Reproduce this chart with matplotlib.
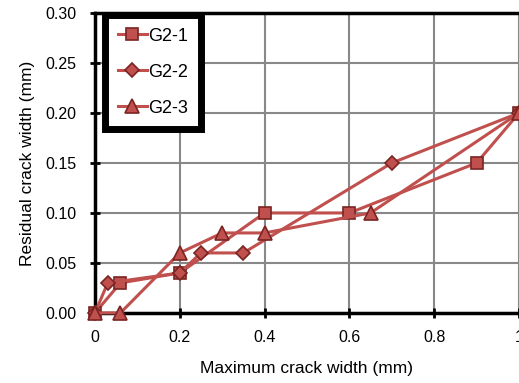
import matplotlib
matplotlib.use("Agg")
import matplotlib.pyplot as plt

plt.rcParams['font.family'] = ['Liberation Sans', 'DejaVu Sans']

x_g21 = [0, 0.06, 0.2, 0.4, 0.6, 0.9, 1.0]
y_g21 = [0, 0.03, 0.04, 0.10, 0.10, 0.15, 0.20]
x_g22 = [0, 0.03, 0.2, 0.25, 0.35, 0.7, 1.0]
y_g22 = [0, 0.03, 0.04, 0.06, 0.06, 0.15, 0.20]
x_g23 = [0, 0.06, 0.2, 0.3, 0.4, 0.65, 1.0]
y_g23 = [0, 0, 0.06, 0.08, 0.08, 0.10, 0.20]
labels = ["G2-1", "G2-2", "G2-3"]
x_ticks = [0, 0.2, 0.4, 0.6, 0.8, 1.0]
x_ticklabels = ["0", "0.2", "0.4", "0.6", "0.8", "1"]
y_ticks = [0, 0.05, 0.10, 0.15, 0.20, 0.25, 0.30]

line_c = "#C0504D"
edge_c = "#7A2422"

fig = plt.figure(figsize=(5.19, 3.83), dpi=100)
ax = fig.add_axes([0.183, 0.183, 0.817, 0.783])

series = [(x_g21, y_g21, "s", 9), (x_g22, y_g22, "D", 7), (x_g23, y_g23, "^", 10)]
for (xs, ys, m, ms), lab in zip(series, labels):
    ax.plot(xs, ys, color=line_c, lw=2.2, marker=m, markersize=ms,
            markerfacecolor=line_c, markeredgecolor=edge_c, markeredgewidth=1.2,
            label=lab, clip_on=False, zorder=3)

ax.set_xlim(0, 1)
ax.set_ylim(0, 0.30)
ax.set_xticks(x_ticks)
ax.set_xticklabels(x_ticklabels)
ax.set_yticks(y_ticks)
ax.set_yticklabels(["%.2f" % v for v in y_ticks])
ax.grid(True, color="#888888", lw=1.5)
ax.set_axisbelow(True)

for s in ["left", "bottom", "top"]:
    ax.spines[s].set_linewidth(2.5)
    ax.spines[s].set_color("black")
ax.spines["right"].set_visible(False)
ax.tick_params(direction="inout", length=7, width=2, labelsize=11.5)
ax.tick_params(axis="y", pad=10)
ax.tick_params(axis="x", pad=9)

ax.set_xlabel("Maximum crack width (mm)", fontsize=12.5, labelpad=11)
ax.set_ylabel("Residual crack width (mm)", fontsize=12.5, labelpad=7)

leg = ax.legend(loc="upper left", bbox_to_anchor=(0.024, 0.993), fontsize=13,
                fancybox=False, framealpha=1, edgecolor="black",
                handlelength=1.6, handletextpad=0.1, labelspacing=1.05,
                borderpad=0.7, borderaxespad=0)
leg.get_frame().set_linewidth(5)

fig.savefig("out.png", dpi=100)
